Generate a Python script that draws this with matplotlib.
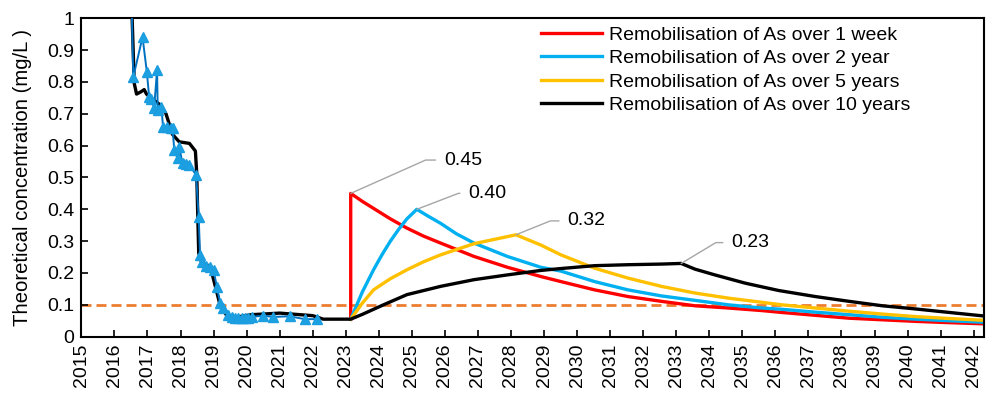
import numpy as np
import matplotlib.pyplot as plt
from matplotlib.ticker import FixedLocator, FuncFormatter

plt.rcParams['font.family'] = ['Liberation Sans', 'DejaVu Sans']
plt.rcParams['font.size'] = 14

# measured concentrations (mg/L)
obs_year = [2016.40, 2016.57, 2016.85, 2016.98, 2017.05, 2017.12, 2017.20, 2017.29, 2017.31,
            2017.42, 2017.47, 2017.60, 2017.70, 2017.76, 2017.81, 2017.91, 2017.96, 2018.06,
            2018.17, 2018.27, 2018.47, 2018.55, 2018.59, 2018.66, 2018.77, 2018.88, 2019.00,
            2019.10, 2019.20, 2019.30, 2019.45, 2019.55, 2019.65, 2019.75, 2019.85, 2019.95,
            2020.05, 2020.15, 2020.50, 2020.80, 2021.30, 2021.76, 2022.12]
obs_val = [1.60, 0.815, 0.941, 0.832, 0.753, 0.745, 0.718, 0.837, 0.712,
           0.722, 0.660, 0.659, 0.656, 0.654, 0.586, 0.560, 0.597, 0.544,
           0.541, 0.539, 0.508, 0.377, 0.257, 0.235, 0.222, 0.220, 0.208,
           0.157, 0.105, 0.090, 0.068, 0.062, 0.060, 0.058, 0.058, 0.058,
           0.060, 0.062, 0.066, 0.062, 0.064, 0.055, 0.055]

# modelled concentration up to the remobilisation event
hist_year = [2016.45, 2016.52, 2016.60, 2016.67, 2016.80, 2016.90, 2016.97, 2017.10, 2017.36,
             2017.56, 2017.76, 2017.96, 2018.27, 2018.45, 2018.49, 2018.55, 2018.63, 2018.90,
             2019.08, 2019.18, 2019.38, 2019.60, 2020.14, 2021.00, 2022.00, 2022.32]
hist_val = [1.60, 1.05, 0.795, 0.762, 0.769, 0.776, 0.762, 0.750, 0.730,
            0.700, 0.635, 0.612, 0.607, 0.583, 0.513, 0.263, 0.235, 0.220,
            0.147, 0.106, 0.069, 0.060, 0.069, 0.074, 0.066, 0.055]

# remobilisation scenarios
red_year = [2023.15, 2023.15, 2023.50, 2023.84, 2024.35, 2024.85, 2025.35, 2025.87, 2026.88,
            2027.89, 2028.90, 2029.51, 2030.53, 2031.54, 2032.55, 2033.57, 2034.58, 2035.59,
            2036.20, 2037.21, 2038.23, 2039.24, 2040.25, 2041.27, 2042.40]
red_val = [0.055, 0.45, 0.425, 0.403, 0.370, 0.341, 0.316, 0.294, 0.252,
           0.218, 0.189, 0.173, 0.147, 0.126, 0.111, 0.097, 0.090, 0.082,
           0.076, 0.067, 0.058, 0.053, 0.048, 0.044, 0.040]

blue_year = [2023.15, 2023.50, 2023.84, 2024.10, 2024.35, 2024.60, 2024.85, 2025.15, 2025.50,
             2025.87, 2026.35, 2026.88, 2027.89, 2028.90, 2029.51, 2030.53, 2031.54, 2032.55,
             2033.57, 2034.58, 2035.59, 2036.20, 2037.21, 2038.23, 2039.24, 2040.25, 2041.27,
             2042.40]
blue_val = [0.055, 0.140, 0.210, 0.258, 0.300, 0.337, 0.370, 0.40, 0.378,
            0.356, 0.323, 0.294, 0.252, 0.218, 0.206, 0.173, 0.147, 0.128,
            0.114, 0.100, 0.090, 0.086, 0.077, 0.069, 0.061, 0.055, 0.050,
            0.045]

yel_year = [2023.15, 2023.50, 2023.84, 2024.35, 2024.85, 2025.35, 2025.87, 2026.88, 2028.15,
            2028.90, 2029.51, 2030.53, 2031.54, 2032.55, 2033.57, 2034.58, 2035.59, 2036.20,
            2037.21, 2038.23, 2039.24, 2040.25, 2041.27, 2042.40]
yel_val = [0.055, 0.105, 0.147, 0.182, 0.210, 0.235, 0.257, 0.292, 0.32,
           0.288, 0.257, 0.215, 0.184, 0.158, 0.137, 0.121, 0.108, 0.100,
           0.090, 0.080, 0.071, 0.063, 0.057, 0.051]

blk_year = [2023.15, 2023.50, 2024.14, 2024.85, 2025.87, 2026.88, 2027.89, 2028.90, 2029.51,
            2030.53, 2031.54, 2032.55, 2033.15, 2033.57, 2034.17, 2035.09, 2036.10, 2037.21,
            2038.23, 2039.24, 2040.25, 2041.27, 2042.40]
blk_val = [0.055, 0.070, 0.100, 0.132, 0.158, 0.179, 0.194, 0.208, 0.214,
           0.223, 0.226, 0.228, 0.23, 0.212, 0.194, 0.168, 0.145, 0.126,
           0.111, 0.097, 0.087, 0.076, 0.064]

threshold = 0.1

fig = plt.figure(figsize=(9.95, 3.94), dpi=100)
ax = fig.add_axes([0.0818, 0.1455, 0.9067, 0.8081])

ax.axhline(threshold, color='#ED7D31', lw=2.0, ls=(0, (3.6, 1.8)), zorder=1)

lw = 2.4
ax.plot(red_year, red_val, color='#FF0000', lw=lw, label='Remobilisation of As over 1 week', zorder=2)
ax.plot(blue_year, blue_val, color='#00B0F0', lw=lw, label='Remobilisation of As over 2 year', zorder=2)
ax.plot(yel_year, yel_val, color='#FFC000', lw=lw, label='Remobilisation of As over 5 years', zorder=2)
ax.plot(hist_year + blk_year, hist_val + blk_val, color='black', lw=lw,
        label='Remobilisation of As over 10 years', zorder=3)

ax.plot(obs_year, obs_val, color='#0070C0', lw=1.4, marker='^', ms=7.5,
        mfc='#1BA1E2', mec='#1B9DE0', zorder=4)

# peak labels with leader lines
peaks = [(red_year, red_val, 67, 24, 24),
         (blue_year, blue_val, 37, 11.5, 21),
         (yel_year, yel_val, 37, 10, 22),
         (blk_year, blk_val, 36, 15, 31)]
for yrs, vals, dx, dy, ang in peaks:
    i = int(np.argmax(vals))
    ax.annotate(f'{vals[i]:.2f}', xy=(yrs[i], vals[i]), xytext=(dx, dy),
                textcoords='offset points', ha='left', va='center', fontsize=14,
                arrowprops=dict(arrowstyle='-', color='#A6A6A6', lw=1.0, relpos=(0, 0.5),
                                shrinkA=4, shrinkB=0,
                                connectionstyle=f'angle,angleA=0,angleB={ang},rad=0'),
                zorder=5)

ax.set_xlim(2015, 2042.3)
ax.set_ylim(0, 1)
years = list(range(2015, 2043))
ax.xaxis.set_major_locator(FixedLocator(years))
ax.set_xticklabels([str(y) for y in years], rotation=90)
ax.yaxis.set_major_locator(FixedLocator(np.arange(0, 1.01, 0.1)))
ax.yaxis.set_major_formatter(FuncFormatter(lambda v, p: f'{v:.1f}'.rstrip('0').rstrip('.') if v else '0'))
ax.tick_params(direction='in', length=5, width=1.2, labelsize=14, pad=5)
for s in ax.spines.values():
    s.set_linewidth(1.5)
ax.set_ylabel('Theoretical concentration (mg/L )', fontsize=14.6, labelpad=11)

ax.legend(loc='upper left', bbox_to_anchor=(0.51, 0.975), frameon=False, borderaxespad=0,
          borderpad=0, handlelength=3.1, handletextpad=0.35, labelspacing=0.3, fontsize=14)

fig.savefig('out.png', dpi=100)
